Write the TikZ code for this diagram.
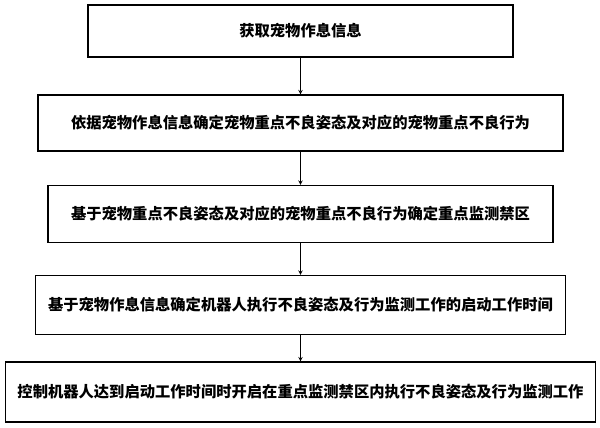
\documentclass[tikz,border=0pt]{standalone}
\usepackage{fontspec}
\newfontfamily\cjk{Noto Sans CJK SC}
\begin{document}
\begin{tikzpicture}[x=1pt,y=-1pt,
  box/.style={draw,line width=1.2pt,inner sep=0pt,font=\cjk\bfseries\fontsize{15.3}{17}\selectfont},
  arr/.style={->,>=stealth,line width=1pt}]
\useasboundingbox (0,0) rectangle (600,428);
\node[box,minimum width=425,minimum height=52] (a) at (300.5,31) {获取宠物作息信息};
\node[box,minimum width=525,minimum height=56] (b) at (300.5,123) {依据宠物作息信息确定宠物重点不良姿态及对应的宠物重点不良行为};
\node[box,minimum width=505,minimum height=57] (c) at (300.5,214) {基于宠物重点不良姿态及对应的宠物重点不良行为确定重点监测禁区};
\node[box,minimum width=530,minimum height=59] (d) at (300.5,305) {基于宠物作息信息确定机器人执行不良姿态及行为监测工作的启动工作时间};
\node[box,minimum width=590,minimum height=60] (e) at (300.5,392) {控制机器人达到启动工作时间时开启在重点监测禁区内执行不良姿态及行为监测工作};
\draw[arr] (a) -- (b);
\draw[arr] (b) -- (c);
\draw[arr] (c) -- (d);
\draw[arr] (d) -- (e);
\end{tikzpicture}
\end{document}
